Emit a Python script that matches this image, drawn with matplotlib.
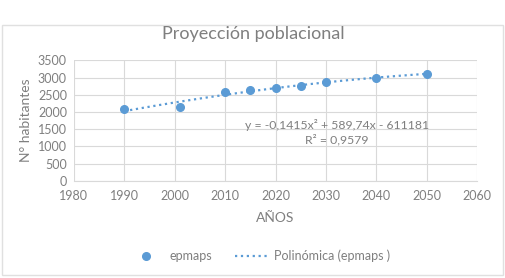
import numpy as np
import matplotlib
matplotlib.use("Agg")
import matplotlib.pyplot as plt

plt.rcParams['font.family'] = ['Lato', 'DejaVu Sans']

# datos
anios = [1990, 2001, 2010, 2015, 2020, 2025, 2030, 2040, 2050]
habitantes = [2085, 2134, 2570, 2637, 2704, 2762, 2859, 2994, 3102]
x_ticks = [1980, 1990, 2000, 2010, 2020, 2030, 2040, 2050, 2060]
y_ticks = [0, 500, 1000, 1500, 2000, 2500, 3000, 3500]

azul = '#5B9BD5'
gris = '#7f7f7f'
grid = '#d9d9d9'

fig = plt.figure(figsize=(5.06, 2.78), dpi=100)
fig.patch.set_facecolor('white')
ax = fig.add_axes([0.146, 0.35, 0.797, 0.433])

# puntos y linea de tendencia polinomica (grado 2)
ax.plot(anios, habitantes, 'o', color=azul, markersize=5.5, label='epmaps', zorder=3)
coef = np.polyfit(anios, habitantes, 2)
xs = np.linspace(anios[0], anios[-1], 100)
ax.plot(xs, np.polyval(coef, xs), ':', color=azul, linewidth=1.6,
        label='Polinómica (epmaps )', zorder=2)

ax.set_xlim(1980, 2060)
ax.set_ylim(0, 3500)
ax.set_xticks(x_ticks)
ax.set_yticks(y_ticks)
ax.grid(True, color=grid, linewidth=0.8)
ax.set_axisbelow(True)
for s in ['top', 'right', 'left']:
    ax.spines[s].set_visible(False)
ax.spines['bottom'].set_color(grid)
ax.tick_params(axis='x', length=0, labelsize=9, colors=gris, pad=7)
ax.tick_params(axis='y', length=0, labelsize=9, colors=gris, pad=5)

ax.set_xlabel('AÑOS', fontsize=10, color=gris, labelpad=7)
ax.set_ylabel('N° habitantes', fontsize=10, color=gris, labelpad=4)
fig.text(0.5, 0.878, 'Proyección poblacional', ha='center', va='center',
         fontsize=13, color=gris)

ax.text(2032.2, 1619, 'y = -0,1415x² + 589,74x - 611181', ha='center', va='center',
        fontsize=8.8, color=gris)
ax.text(2032.2, 1183, 'R² = 0,9579', ha='center', va='center',
        fontsize=8.8, color=gris)

fig.legend(loc='center', bbox_to_anchor=(260 / 506, 1 - 256 / 278), ncol=2, frameon=False,
           fontsize=9, labelcolor=gris, handlelength=2.7, handletextpad=0.5,
           columnspacing=1.8)

fig.patches.append(plt.Rectangle((0.004, 0.01), 0.99, 0.9, transform=fig.transFigure,
                                 fill=False, edgecolor='#e0e0e0', linewidth=1))

fig.savefig('out.png', dpi=100)
